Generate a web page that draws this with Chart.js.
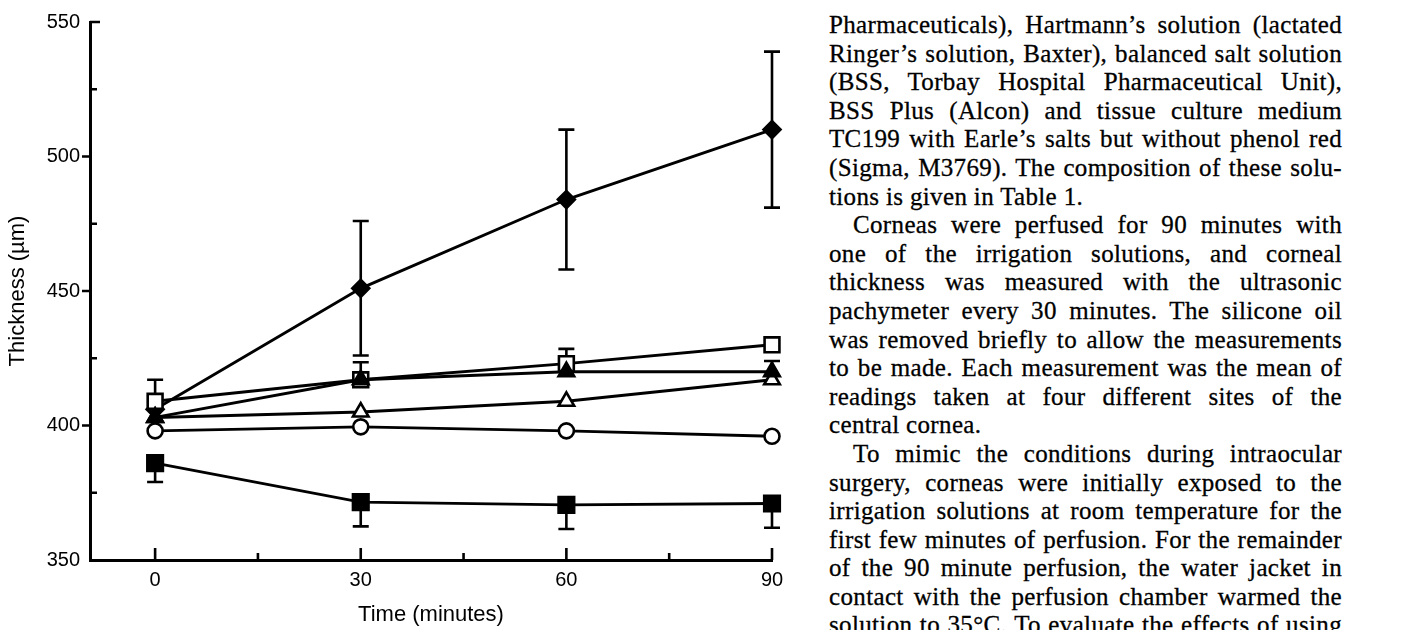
<!DOCTYPE html>
<html>
<head>
<meta charset="utf-8">
<script src="https://cdn.jsdelivr.net/npm/chart.js@4.4.1/dist/chart.umd.min.js"></script>
<style>
  html, body { margin: 0; padding: 0; background: #fff; }
  #page { position: relative; width: 1411px; height: 630px; overflow: hidden; }
  #plot { position: absolute; left: 0; top: 0; }
  #text {
    position: absolute; left: 829px; top: 11px; width: 513px;
    font-family: "Liberation Serif", "Times New Roman", serif;
    font-size: 25px; line-height: 28.6px; letter-spacing: 0.35px; color: #000;
    -webkit-text-stroke: 0.3px #000;
  }
  #text div { text-align: justify; text-align-last: justify; }
  #text div.end { text-align-last: left; }
  #text div.ind { text-indent: 24px; }
</style>
</head>
<body>
<div id="page">
  <canvas id="plot" width="820" height="630"></canvas>
  <div id="text">
    <div>Pharmaceuticals), Hartmann’s solution (lactated</div>
    <div>Ringer’s solution, Baxter), balanced salt solution</div>
    <div>(BSS, Torbay Hospital Pharmaceutical Unit),</div>
    <div>BSS Plus (Alcon) and tissue culture medium</div>
    <div>TC199 with Earle’s salts but without phenol red</div>
    <div>(Sigma, M3769). The composition of these solu-</div>
    <div class="end">tions is given in Table 1.</div>
    <div class="ind">Corneas were perfused for 90 minutes with</div>
    <div>one of the irrigation solutions, and corneal</div>
    <div>thickness was measured with the ultrasonic</div>
    <div>pachymeter every 30 minutes. The silicone oil</div>
    <div>was removed briefly to allow the measurements</div>
    <div>to be made. Each measurement was the mean of</div>
    <div>readings taken at four different sites of the</div>
    <div class="end">central cornea.</div>
    <div class="ind">To mimic the conditions during intraocular</div>
    <div>surgery, corneas were initially exposed to the</div>
    <div>irrigation solutions at room temperature for the</div>
    <div>first few minutes of perfusion. For the remainder</div>
    <div>of the 90 minute perfusion, the water jacket in</div>
    <div>contact with the perfusion chamber warmed the</div>
    <div>solution to 35°C. To evaluate the effects of using</div>
  </div>
</div>
<script>
// time points and axis ticks
const times = [0, 30, 60, 90];
const xTickValues = [0, 30, 60, 90];
const xMinorTicks = [15, 45, 75];
const yTickValues = [350, 400, 450, 500, 550];
const yMinorTicks = [375, 425, 475, 525];

// corneal thickness (um)
const diamondMean = [406, 451, 484, 510];
const diamondErr = [0, 25, 26, 29];
const openSquareMean = [409, 417, 423, 430];
const openSquareErrUp = [8, 6.5, 5.5, 0];
const filledTriangleMean = [403, 417, 420, 420];
const filledTriangleErrUp = [0, 0, 0, 4];
const openTriangleMean = [403, 405, 409, 417];
const openCircleMean = [398, 399.5, 398, 396];
const filledSquareMean = [386, 371.5, 370.5, 371];
const filledSquareErrDown = [7, 9, 9, 9];

const INK = '#000';
Chart.defaults.font.family = '"Liberation Sans", Arial, sans-serif';
Chart.defaults.color = INK;

function series(mean, style, filled, radius, errUp, errDown, order) {
  return {
    data: times.map((t, i) => ({ x: t, y: mean[i] })),
    errUp: errUp || [],
    errDown: errDown || [],
    clip: false,
    borderColor: INK,
    borderWidth: 2.9,
    tension: 0,
    fill: false,
    pointStyle: style,
    pointRadius: radius,
    pointHoverRadius: radius,
    pointBorderWidth: 2.6,
    pointBorderColor: INK,
    pointBackgroundColor: filled ? INK : '#fff',
    order: order
  };
}

const errorBars = {
  id: 'errorBars',
  beforeDatasetsDraw(chart) {
    const { ctx, scales: { x, y } } = chart;
    ctx.save();
    ctx.strokeStyle = INK;
    ctx.lineWidth = 2.6;
    chart.data.datasets.forEach(ds => {
      ds.data.forEach((p, i) => {
        const px = x.getPixelForValue(p.x);
        const py = y.getPixelForValue(p.y);
        [[ds.errUp[i], 1], [ds.errDown[i], -1]].forEach(([e, dir]) => {
          if (!e) return;
          const ey = y.getPixelForValue(p.y + dir * e);
          ctx.beginPath();
          ctx.moveTo(px, py);
          ctx.lineTo(px, ey);
          ctx.moveTo(px - 8, ey);
          ctx.lineTo(px + 8, ey);
          ctx.stroke();
        });
      });
    });
    ctx.restore();
  }
};

const axisTicks = {
  id: 'axisTicks',
  afterDraw(chart) {
    const { ctx, scales: { x, y } } = chart;
    const ax = x.left, ay = y.bottom;
    ctx.save();
    ctx.strokeStyle = INK;
    ctx.lineWidth = 2.6;
    ctx.beginPath();
    xTickValues.forEach(v => {
      const px = x.getPixelForValue(v);
      ctx.moveTo(px, ay); ctx.lineTo(px, ay - 12);
    });
    xMinorTicks.forEach(v => {
      const px = x.getPixelForValue(v);
      ctx.moveTo(px, ay); ctx.lineTo(px, ay - 7);
    });
    yTickValues.forEach((v, i) => {
      if (i === 0) return;
      const py = y.getPixelForValue(v);
      if (i === yTickValues.length - 1) { ctx.moveTo(ax, py); ctx.lineTo(ax + 10, py); }
      else { ctx.moveTo(ax - 8, py); ctx.lineTo(ax, py); }
    });
    yMinorTicks.forEach(v => {
      const py = y.getPixelForValue(v);
      ctx.moveTo(ax, py); ctx.lineTo(ax + 7, py);
    });
    ctx.stroke();
    ctx.restore();
  }
};

new Chart(document.getElementById('plot').getContext('2d'), {
  type: 'line',
  data: {
    datasets: [
      series(diamondMean, 'rectRot', true, 8.5, diamondErr, diamondErr, 6),
      series(openSquareMean, 'rect', false, 10.5, openSquareErrUp, null, 5),
      series(filledTriangleMean, 'triangle', true, 9, filledTriangleErrUp, null, 1),
      series(openTriangleMean, 'triangle', false, 9, null, null, 3),
      series(openCircleMean, 'circle', false, 7.5, null, null, 2),
      series(filledSquareMean, 'rect', true, 11, null, filledSquareErrDown, 4)
    ]
  },
  options: {
    responsive: false,
    animation: false,
    events: [],
    layout: { padding: { top: 22, right: 48, left: 0, bottom: 0 } },
    plugins: { legend: { display: false }, tooltip: { enabled: false } },
    scales: {
      x: {
        type: 'linear',
        min: -9.5,
        max: 90,
        afterBuildTicks: s => { s.ticks = xTickValues.map(v => ({ value: v })); },
        afterFit: s => { s.height = 70; },
        grid: { display: false, drawTicks: false, tickLength: 0 },
        border: { display: true, color: INK, width: 3 },
        ticks: { color: INK, font: { size: 20 }, padding: 8, maxRotation: 0 },
        title: { display: true, text: 'Time (minutes)', color: INK, font: { size: 22 }, padding: { top: 0, bottom: 2 } }
      },
      y: {
        type: 'linear',
        min: 350,
        max: 550,
        afterBuildTicks: s => { s.ticks = yTickValues.map(v => ({ value: v })); },
        afterFit: s => { s.width = 90; },
        grid: { display: false, drawTicks: false, tickLength: 0 },
        border: { display: true, color: INK, width: 3 },
        ticks: { color: INK, font: { size: 20 }, padding: 10 },
        title: { display: true, text: 'Thickness (µm)', color: INK, font: { size: 22 }, padding: { top: 5, bottom: 0 } }
      }
    }
  },
  plugins: [errorBars, axisTicks]
});
</script>
</body>
</html>
